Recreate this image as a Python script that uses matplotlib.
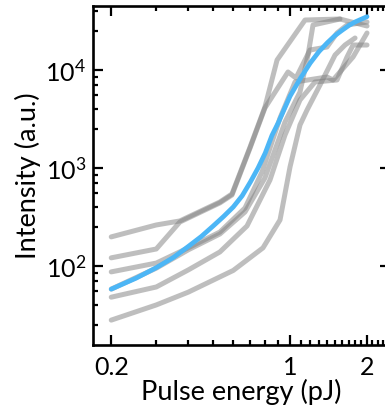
import numpy as np
import matplotlib
matplotlib.use("Agg")
import matplotlib.pyplot as plt
from matplotlib.ticker import FixedLocator, FixedFormatter, NullFormatter

plt.rcParams["font.family"] = ["Lato", "DejaVu Sans"]
plt.rcParams["font.weight"] = "normal"
plt.rcParams["mathtext.fontset"] = "custom"
plt.rcParams["mathtext.rm"] = "Lato"
plt.rcParams["mathtext.it"] = "Lato"
plt.rcParams["mathtext.default"] = "regular"

# Individual measurement traces (pulse energy in pJ, intensity in a.u.)
e1 = [0.2, 0.3, 0.371, 0.532, 0.593, 0.698, 0.798, 0.89, 1.145, 1.568]
i1 = [198, 262, 288, 450, 543, 1638, 4194, 12650, 32370, 33150]

e2 = [0.2, 0.3, 0.371, 0.532, 0.593, 0.698, 0.798, 0.982, 1.055, 1.197, 1.395, 1.527, 1.671, 2.0]
i2 = [121, 149, 281, 440, 530, 1600, 4100, 9540, 8285, 16000, 17170, 23860, 28790, 30880]

e3 = [0.2, 0.3, 0.4, 0.532, 0.667, 0.777, 0.914, 1.046, 1.395, 1.473, 1.764, 2.0]
i3 = [87, 107, 153, 222, 391, 910, 3236, 7545, 8485, 7910, 13580, 23860]

e4 = [0.2, 0.3, 0.4, 0.532, 0.667, 0.798, 0.956, 1.094, 1.176, 1.23, 1.568, 2.0]
i4 = [58, 95, 146, 212, 356, 791, 2948, 5965, 14220, 28790, 33150, 28120]

e5 = [0.2, 0.3, 0.4, 0.532, 0.679, 0.835, 0.956, 1.094, 1.252, 1.527, 1.671, 1.764, 2.0]
i5 = [48, 61, 91, 139, 256, 754, 2172, 4943, 7545, 7910, 13580, 17990, 17990]

e6 = [0.2, 0.3, 0.4, 0.6, 0.784, 0.914, 1.0, 1.094, 1.166, 1.31, 1.5, 1.641, 1.796]
i6 = [28, 40, 54, 90, 153, 295, 1024, 2747, 3908, 7030, 14220, 17990, 21210]

traces = [(e1, i1), (e2, i2), (e3, i3), (e4, i4), (e5, i5), (e6, i6)]

# Average response
e_avg = [0.2, 0.25, 0.3, 0.35, 0.4, 0.45, 0.5, 0.55, 0.6, 0.65, 0.7, 0.75, 0.8,
         0.85, 0.9, 0.95, 1.0, 1.1, 1.2, 1.3, 1.4, 1.5, 1.6, 1.7, 1.8, 1.9, 2.0]
i_avg = [58, 75, 96, 122, 158, 200, 255, 320, 400, 520, 720, 1000, 1420,
         2150, 2900, 4000, 5400, 8300, 11800, 15500, 19000, 22500, 25500,
         28500, 31000, 33000, 35000]

x_major = [0.2, 1, 2]
x_major_labels = ["0.2", "1", "2"]
y_major = [1e2, 1e3, 1e4]
y_major_labels = [r"$10^{2}$", r"$10^{3}$", r"$10^{4}$"]

fig = plt.figure(figsize=(3.85, 4.07), dpi=100)
ax = fig.add_axes([93 / 385, 1 - 345 / 407, (390 - 93) / 385, (345 - 6) / 407])

for e, i in traces:
    ax.plot(e, i, color="#7f7f7f", alpha=0.5, lw=3.6,
            solid_capstyle="round", solid_joinstyle="round")
ax.plot(e_avg, i_avg, color="#4cb6f6", lw=3.4,
        solid_capstyle="round", solid_joinstyle="round")

ax.set_xscale("log")
ax.set_yscale("log")
ax.set_xlim(0.1697, 2.46)
ax.set_ylim(15.6, 45000)

ax.xaxis.set_major_locator(FixedLocator(x_major))
ax.xaxis.set_major_formatter(FixedFormatter(x_major_labels))
x_minor = [round(v, 1) for v in np.arange(0.3, 2.45, 0.1) if round(v, 1) not in (1.0, 2.0)]
ax.xaxis.set_minor_locator(FixedLocator(x_minor))
ax.xaxis.set_minor_formatter(NullFormatter())

ax.yaxis.set_major_locator(FixedLocator(y_major))
ax.yaxis.set_major_formatter(FixedFormatter(y_major_labels))
y_minor = [m * d for d in (10, 100, 1000, 10000) for m in (2.5, 4, 5.5, 7, 8.5)]
ax.yaxis.set_minor_locator(FixedLocator(y_minor))
ax.yaxis.set_minor_formatter(NullFormatter())

for s in ax.spines.values():
    s.set_linewidth(1.9)
ax.tick_params(which="both", direction="in", top=True, right=True,
               width=1.6, color="black", labelcolor="black", labelsize=18)
ax.tick_params(which="major", length=7)
ax.tick_params(which="minor", length=3.5)
ax.tick_params(axis="x", which="major", pad=8)
ax.tick_params(axis="y", which="major", pad=5)

ax.set_xlabel("Pulse energy (pJ)", fontsize=19.5, color="black", labelpad=0)
ax.set_ylabel("Intensity (a.u.)", fontsize=19.5, color="black", labelpad=3)

fig.savefig("out.png", dpi=100)
